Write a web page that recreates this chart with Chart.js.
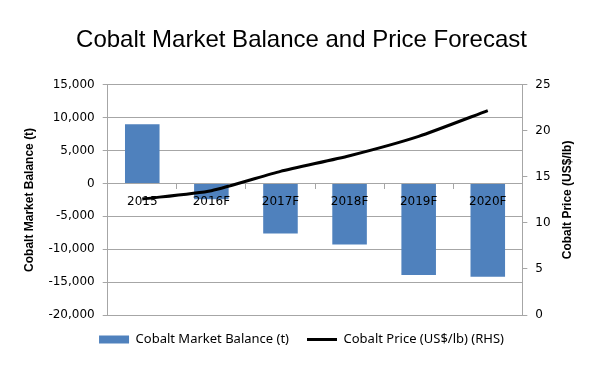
<!DOCTYPE html>
<html>
<head>
<meta charset="utf-8">
<script src="https://cdn.jsdelivr.net/npm/chart.js@4/dist/chart.umd.min.js"></script>
<style>
  html, body { margin: 0; padding: 0; background: #fff; }
  #wrap { width: 600px; height: 368px; }
</style>
</head>
<body>
<div id="wrap"><canvas id="chart" width="600" height="368"></canvas></div>
<script>
const years = ['2015', '2016F', '2017F', '2018F', '2019F', '2020F'];
const balance = [9000, -2400, -7600, -9300, -13900, -14200];
const price = [12.6, 13.5, 15.6, 17.3, 19.4, 22.2];
const balanceTicks = [-20000, 15000, 5000];
const priceTicks = [0, 25, 5];

const gridGray = '#a6a6a6';
const tickFont = { family: 'DejaVu Sans', size: 12 };
const axisTitleFont = { family: 'Liberation Sans', size: 12, weight: 'bold' };
const priceTitle = 'Cobalt Price (US$/lb)';

// chart.js turns a right-hand title the other way, so the space is kept by a
// see-through title and the visible one is drawn reading bottom to top
const rightTitle = {
  id: 'rightTitle',
  afterDraw(chart) {
    const { ctx, chartArea } = chart;
    ctx.save();
    ctx.translate(568, (chartArea.top + chartArea.bottom) / 2);
    ctx.rotate(-Math.PI / 2);
    ctx.font = 'bold 12px "Liberation Sans"';
    ctx.fillStyle = '#000';
    ctx.textAlign = 'center';
    ctx.textBaseline = 'middle';
    ctx.fillText(priceTitle, 0, 0);
    ctx.restore();
  },
};

new Chart(document.getElementById('chart'), {
  data: {
    labels: years,
    datasets: [
      {
        type: 'line',
        label: 'Cobalt Price (US$/lb) (RHS)',
        data: price,
        yAxisID: 'y1',
        borderColor: '#000',
        backgroundColor: '#000',
        borderWidth: 3,
        pointRadius: 0,
        tension: 0.2,
        order: 0,
      },
      {
        type: 'bar',
        label: 'Cobalt Market Balance (t)',
        data: balance,
        yAxisID: 'y',
        backgroundColor: '#4f81bd',
        barPercentage: 0.5,
        categoryPercentage: 1,
        order: 1,
      },
    ],
  },
  options: {
    responsive: false,
    animation: false,
    layout: { padding: { top: 10, left: 18, right: 15, bottom: 12 } },
    plugins: {
      title: {
        display: true,
        text: 'Cobalt Market Balance and Price Forecast',
        color: '#000',
        font: { family: 'Liberation Sans', size: 24, weight: 'normal' },
        padding: { top: 16, bottom: 30 },
      },
      legend: {
        position: 'bottom',
        reverse: true,
        labels: {
          color: '#000',
          font: { family: 'Noto Sans', size: 13 },
          usePointStyle: true,
          pointStyleWidth: 30,
          boxHeight: 8,
          padding: 18,
          generateLabels: chart => chart.data.datasets.map((ds, i) => ({
            text: ds.label,
            fillStyle: ds.backgroundColor,
            strokeStyle: ds.type === 'line' ? ds.borderColor : ds.backgroundColor,
            lineWidth: ds.type === 'line' ? 3 : 0,
            pointStyle: ds.type === 'line' ? 'line' : 'rect',
            fontColor: '#000',
            datasetIndex: i,
            hidden: false,
          })),
        },
      },
      tooltip: { enabled: false },
    },
    scales: {
      x: {
        position: { y: 0 },
        offset: true,
        grid: { drawOnChartArea: false, tickLength: 5, color: gridGray, offset: true },
        border: { color: gridGray },
        ticks: { color: '#000', font: tickFont, padding: 6, z: 1 },
      },
      y: {
        position: 'left',
        min: balanceTicks[0],
        max: balanceTicks[1],
        ticks: { stepSize: balanceTicks[2], color: '#000', font: tickFont, padding: 8 },
        grid: { color: gridGray, tickLength: 5 },
        border: { color: gridGray },
        title: {
          display: true,
          text: 'Cobalt Market Balance (t)',
          color: '#000',
          font: axisTitleFont,
          padding: { bottom: 4 },
        },
      },
      y1: {
        position: 'right',
        min: priceTicks[0],
        max: priceTicks[1],
        ticks: { stepSize: priceTicks[2], color: '#000', font: tickFont, padding: 8 },
        grid: { drawOnChartArea: false, color: gridGray, tickLength: 5 },
        border: { color: gridGray },
        title: {
          display: true,
          text: priceTitle,
          color: 'rgba(0,0,0,0)',
          font: axisTitleFont,
          padding: { top: 8 },
        },
      },
    },
  },
  plugins: [rightTitle],
});
</script>
</body>
</html>
